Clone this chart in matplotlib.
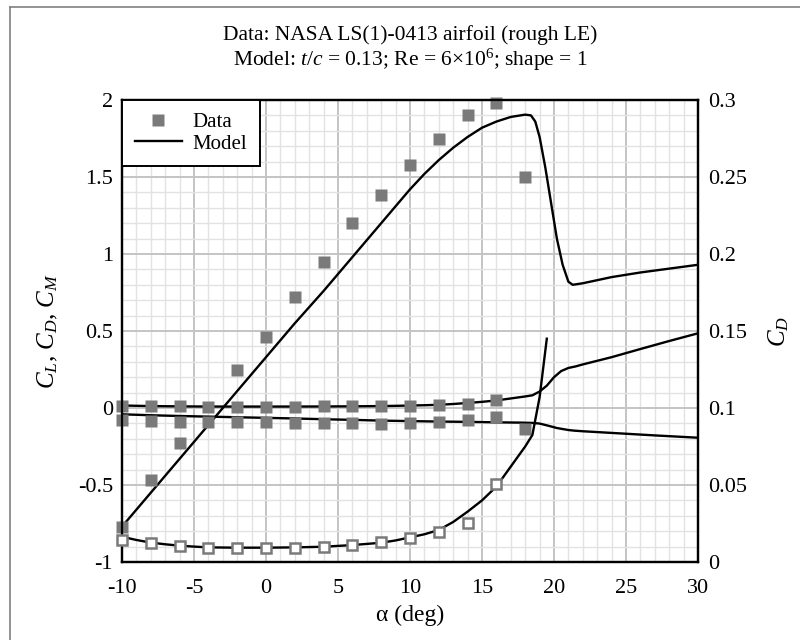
import matplotlib
matplotlib.use("Agg")
import matplotlib.pyplot as plt
from matplotlib.lines import Line2D
import numpy as np

plt.rcParams['font.family'] = ['Liberation Serif', 'DejaVu Serif']
plt.rcParams['mathtext.fontset'] = 'custom'
plt.rcParams['mathtext.rm'] = 'Liberation Serif'
plt.rcParams['mathtext.it'] = 'Liberation Serif:italic'

# ---- Data (experimental) ----
alpha_cl_data = [-10, -8, -6, -2, 0, 2, 4, 6, 8, 10, 12, 14, 16, 18]
cl_data = [-0.77, -0.47, -0.23, 0.25, 0.46, 0.72, 0.95, 1.20, 1.38, 1.58, 1.75, 1.90, 1.98, 1.50]
alpha_cm_data = [-10, -8, -6, -4, -2, 0, 2, 4, 6, 8, 10, 12, 14, 16, 18]
cm_data = [-0.078, -0.083, -0.089, -0.089, -0.093, -0.093, -0.099, -0.099, -0.099, -0.102,
           -0.099, -0.089, -0.078, -0.060, -0.137]
alpha_cd_data = [-10, -8, -6, -4, -2, 0, 2, 4, 6, 8, 10, 12, 14, 16]
cd_data = [0.0140, 0.0125, 0.0104, 0.0089, 0.0089, 0.0089, 0.0089, 0.0100, 0.0112, 0.0132,
           0.0154, 0.0193, 0.0251, 0.0504]

# ---- Model ----
alpha_cl_model = [-10, -8, -6, -4, -2, 0, 2, 4, 6, 8, 9, 10, 11, 12, 13, 14, 15, 16, 17, 18,
                  18.4, 18.7, 19.0, 19.4, 19.8, 20.2, 20.6, 21.0, 21.3, 22, 24, 26, 28, 30]
cl_model = [-0.77, -0.55, -0.33, -0.11, 0.11, 0.33, 0.55, 0.76, 0.98, 1.20, 1.31, 1.42, 1.52,
            1.61, 1.69, 1.76, 1.82, 1.86, 1.89, 1.905, 1.90, 1.86, 1.76, 1.56, 1.33, 1.10,
            0.93, 0.82, 0.80, 0.81, 0.85, 0.88, 0.905, 0.93]

alpha_cd_model = [-10, -9, -8, -7, -6, -5, -4, -2, 0, 2, 4, 6, 8, 9, 10, 11, 12, 13, 14, 15,
                  16, 17, 18, 18.5, 19, 19.5, 20, 20.5, 21, 21.5, 22, 24, 26, 28, 30]
cd_model = [0.0164, 0.0143, 0.0126, 0.0115, 0.0106, 0.0100, 0.0095, 0.0093, 0.0093, 0.0095,
            0.0099, 0.0110, 0.0125, 0.0140, 0.0160, 0.0180, 0.0208, 0.0260, 0.0327, 0.0400,
            0.0490, 0.0620, 0.0750, 0.0825, 0.1070, 0.1450, 0.2000, 0.2400, 0.2600, 0.2700,
            0.2830, 0.3300, 0.3830, 0.4350, 0.4850]
cd_right_max_alpha = 19.5

alpha_cm_model = [-10, -8, -6, -4, -2, 0, 2, 4, 6, 8, 10, 12, 14, 16, 17.7, 18.5, 19, 19.6,
                  20.2, 21, 21.4, 22, 24.6, 27, 30]
cm_model = [-0.041, -0.047, -0.052, -0.056, -0.060, -0.064, -0.068, -0.073, -0.077, -0.082,
            -0.085, -0.088, -0.090, -0.093, -0.095, -0.097, -0.101, -0.115, -0.130, -0.143,
            -0.147, -0.151, -0.165, -0.178, -0.193]

title_lines = ["Data: NASA LS(1)-0413 airfoil (rough LE)",
               "Model: $t/c$ = 0.13; Re = 6\u00d710$^6$; shape = 1"]

gray = '#7a7a7a'

fig = plt.figure(figsize=(8, 6.4), dpi=100)
ax = fig.add_axes([122/800, 1-562/640, (698-122)/800, (562-100)/640])

ax.set_xlim(-10, 30)
ax.set_ylim(-1, 2)
ax.set_xticks(np.arange(-10, 31, 5))
ax.set_xticks(np.arange(-10, 31, 1), minor=True)
ax.set_xticklabels([str(v) for v in range(-10, 31, 5)])
ax.set_yticks([-1, -0.5, 0, 0.5, 1, 1.5, 2])
ax.set_yticklabels(['-1', '-0.5', '0', '0.5', '1', '1.5', '2'])
ax.set_yticks(np.arange(-1, 2.001, 0.1), minor=True)
ax.grid(which='minor', color='#e2e2e2', lw=1.0)
ax.grid(which='major', color='#c4c4c4', lw=1.4)
ax.set_axisbelow(True)
ax.tick_params(axis='y', which='both', length=0, labelsize=16, pad=6.5)
ax.tick_params(axis='x', which='both', length=0, labelsize=16, pad=12)

ms = 9
ax.plot(alpha_cl_model, cl_model, color='black', lw=1.7, zorder=3)
ax.plot(alpha_cd_model, cd_model, color='black', lw=1.7, zorder=3)
ax.plot(alpha_cm_model, cm_model, color='black', lw=1.7, zorder=3)
ax.plot(alpha_cl_data, cl_data, 's', color=gray, ms=ms, mec='none', zorder=4, clip_on=False)
ax.plot(alpha_cm_data, cm_data, 's', color=gray, ms=ms, mec='none', zorder=4, clip_on=False)
ax.plot(alpha_cd_data, cd_data, 's', color=gray, ms=ms, mec='none', zorder=4, clip_on=False)

ax.set_xlabel('\u03b1 (deg)', fontsize=17, labelpad=5)
ax.set_ylabel('$C_L$, $C_D$, $C_M$', fontsize=18, labelpad=13)

ax2 = ax.twinx()
ax2.set_ylim(0, 0.3)
ax2.set_yticks([0, 0.05, 0.1, 0.15, 0.2, 0.25, 0.3])
ax2.set_yticklabels(['0', '0.05', '0.1', '0.15', '0.2', '0.25', '0.3'])
ax2.tick_params(length=0, labelsize=16, pad=7)
ax2.set_ylabel('$C_D$', fontsize=18, labelpad=14)
a_r = [a for a in alpha_cd_model if a <= cd_right_max_alpha]
c_r = cd_model[:len(a_r)]
ax2.plot(a_r, c_r, color='black', lw=1.7, zorder=3)
ax2.plot(alpha_cd_data, cd_data, 's', mfc='white', mec=gray, mew=1.8, ms=7, zorder=4,
         clip_on=False)

for a in (ax, ax2):
    for s in a.spines.values():
        s.set_linewidth(1.6)
        s.set_color('black')

handles = [Line2D([], [], marker='s', ls='none', color=gray, mec='none', ms=ms),
           Line2D([], [], color='black', lw=1.7)]
leg = ax2.legend(handles, ['Data', 'Model'], loc='upper left', fontsize=15,
                 fancybox=False, framealpha=1, edgecolor='black', borderaxespad=0,
                 handlelength=2.3, handletextpad=0.5, borderpad=0.6, labelspacing=0.1)
leg.get_frame().set_linewidth(1.4)

fig.text(410/800, 1-35/640, title_lines[0], ha='center', va='center', fontsize=15.5)
fig.text(410/800, 1-60/640, title_lines[1], ha='center', va='center', fontsize=15.5)

fig.add_artist(Line2D([10/800, 10/800], [0, 1-7/640], color='#808080', lw=1.2,
                      transform=fig.transFigure))
fig.add_artist(Line2D([10/800, 1], [1-7/640, 1-7/640], color='#808080', lw=1.2,
                      transform=fig.transFigure))

fig.savefig('out.png', dpi=100)
